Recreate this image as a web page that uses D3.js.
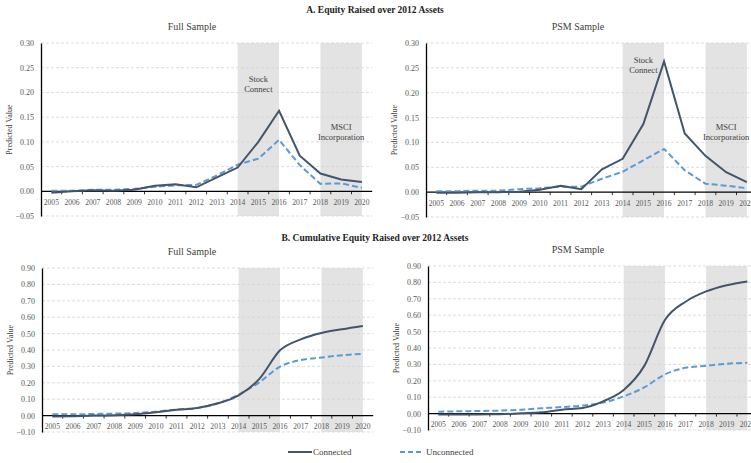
<!DOCTYPE html>
<html>
<head>
<meta charset="utf-8">
<script src="https://cdn.jsdelivr.net/npm/d3@7"></script>
<style>
  body { margin: 0; background: #fff; }
  text { font-family: "Liberation Serif", "DejaVu Serif", serif; }
</style>
</head>
<body>
<script>
const years = ["2005","2006","2007","2008","2009","2010","2011","2012","2013","2014","2015","2016","2017","2018","2019","2020"]

// A. Equity raised over 2012 assets
const aFullConnected   = [-0.003, 0.000, 0.002, 0.001, 0.003, 0.011, 0.014, 0.008, 0.028, 0.048, 0.100, 0.163, 0.072, 0.036, 0.024, 0.019]
const aFullUnconnected = [0.001, 0.001, 0.003, 0.003, 0.005, 0.009, 0.012, 0.013, 0.032, 0.054, 0.066, 0.104, 0.053, 0.015, 0.016, 0.007]
const aPsmConnected    = [-0.001, -0.001, 0.000, 0.000, 0.001, 0.005, 0.013, 0.006, 0.046, 0.067, 0.137, 0.263, 0.118, 0.073, 0.040, 0.020]
const aPsmUnconnected  = [0.002, 0.002, 0.003, 0.003, 0.006, 0.008, 0.011, 0.011, 0.027, 0.041, 0.064, 0.087, 0.044, 0.017, 0.013, 0.008]

// B. Cumulative equity raised over 2012 assets
const bFullConnected   = [-0.006, -0.004, 0.000, 0.002, 0.008, 0.020, 0.035, 0.047, 0.075, 0.124, 0.224, 0.398, 0.465, 0.504, 0.527, 0.547]
const bFullUnconnected = [0.008, 0.008, 0.010, 0.012, 0.016, 0.024, 0.037, 0.047, 0.075, 0.128, 0.203, 0.299, 0.339, 0.354, 0.368, 0.376]
const bPsmConnected    = [-0.006, -0.006, -0.005, -0.004, 0.002, 0.008, 0.024, 0.034, 0.075, 0.144, 0.291, 0.571, 0.682, 0.745, 0.783, 0.806]
const bPsmUnconnected  = [0.012, 0.014, 0.016, 0.018, 0.024, 0.032, 0.040, 0.049, 0.067, 0.105, 0.160, 0.239, 0.279, 0.292, 0.304, 0.310]

const aTicks = [-0.05, 0, 0.05, 0.10, 0.15, 0.20, 0.25, 0.30]
const bTicks = [-0.10, 0, 0.10, 0.20, 0.30, 0.40, 0.50, 0.60, 0.70, 0.80, 0.90]

const periods = [["2014", "2016"], ["2018", "2020"]]

const W = 751, H = 463
const cConn = "#44546a"
const cUnconn = "#5b9bd5"

const svg = d3.select("body").append("svg")
  .attr("width", W)
  .attr("height", H)

// panel titles
svg.append("text").attr("x", 375).attr("y", 13).attr("text-anchor", "middle")
  .style("font-size", "9.5px").style("font-weight", "bold").attr("fill", "#222")
  .text("A. Equity Raised over 2012 Assets")
svg.append("text").attr("x", 375).attr("y", 241).attr("text-anchor", "middle")
  .style("font-size", "9.5px").style("font-weight", "bold").attr("fill", "#222")
  .text("B. Cumulative Equity Raised over 2012 Assets")

function panel(p) {
  const x = d3.scaleBand().domain(years).range([p.left, p.left + 16 * p.bw])
  const y = d3.scaleLinear().domain([p.ticks[0], p.ticks[p.ticks.length - 1]]).range([p.bottom, p.top])
  const g = svg.append("g")
  const cx = d => x(d) + x.bandwidth() / 2

  // shaded periods
  g.selectAll(".shade").data(periods).enter().append("rect")
    .attr("x", d => cx(d[0]))
    .attr("width", d => cx(d[1]) - cx(d[0]))
    .attr("y", p.top)
    .attr("height", p.bottom - p.top)
    .attr("fill", "#e3e3e3")

  // gridlines
  g.selectAll(".grid").data(p.ticks.filter(t => t !== 0)).enter().append("line")
    .attr("x1", p.left).attr("x2", p.left + 16 * p.bw)
    .attr("y1", d => y(d)).attr("y2", d => y(d))
    .attr("stroke", "#d4d4d4").attr("stroke-width", 0.8)
    .attr("stroke-dasharray", "3,2")

  // y axis
  const ya = g.append("g").attr("transform", `translate(${p.left},0)`)
    .call(d3.axisLeft(y).tickValues(p.ticks).tickFormat(d3.format(".2f")).tickSize(0).tickPadding(7))
  ya.select(".domain").attr("stroke", "#000").attr("stroke-width", 1.3)
  ya.selectAll("text").style("font-size", "8px").attr("fill", "#595959")
    .style("font-family", "Liberation Serif")

  // x axis at zero
  const xa = g.append("g").attr("transform", `translate(0,${y(0)})`)
    .call(d3.axisBottom(x).tickSize(0).tickPadding(8))
  xa.select(".domain").remove()
  xa.selectAll("text").style("font-size", "7.6px").attr("fill", "#595959")
    .style("font-family", "Liberation Serif")
  g.append("line")
    .attr("x1", p.left).attr("x2", p.left + 16 * p.bw)
    .attr("y1", y(0)).attr("y2", y(0))
    .attr("stroke", "#000").attr("stroke-width", 1.2)
  g.selectAll(".xtick").data(years.slice(1)).enter().append("line")
    .attr("x1", d => x(d)).attr("x2", d => x(d))
    .attr("y1", y(0)).attr("y2", y(0) + 3)
    .attr("stroke", "#000").attr("stroke-width", 0.8)

  // y title
  g.append("text")
    .attr("transform", `translate(${p.left - 29},${(p.top + p.bottom) / 2}) rotate(-90)`)
    .attr("text-anchor", "middle")
    .style("font-size", "8px").attr("fill", "#404040")
    .text("Predicted Value")

  // sub title
  g.append("text").attr("x", p.titleX).attr("y", p.top - 13)
    .attr("text-anchor", "middle").style("font-size", "10px").attr("fill", "#404040")
    .text(p.title)

  const line = d3.line()
    .x((d, i) => cx(years[i]))
    .y(d => y(d))
    .curve(p.smooth ? d3.curveMonotoneX : d3.curveLinear)

  g.append("path").datum(p.unconn).attr("d", line)
    .attr("fill", "none").attr("stroke", cUnconn).attr("stroke-width", 2)
    .attr("stroke-dasharray", "6,3")
  g.append("path").datum(p.conn).attr("d", line)
    .attr("fill", "none").attr("stroke", cConn).attr("stroke-width", 2)

  if (p.notes) {
    p.notes.forEach(n => {
      const t = g.append("text").attr("x", cx(n.at) + n.dx).attr("y", y(n.y))
        .attr("text-anchor", "middle").style("font-size", "8.5px").attr("fill", "#404040")
      n.lines.forEach((s, i) => t.append("tspan").attr("x", cx(n.at) + n.dx).attr("dy", i ? 10 : 0).text(s))
    })
  }
}

panel({ left: 41, bw: 20.7, top: 43, bottom: 216, ticks: aTicks, conn: aFullConnected, unconn: aFullUnconnected,
  title: "Full Sample", titleX: 192, smooth: false,
  notes: [{ at: "2015", dx: 0, y: 0.222, lines: ["Stock", "Connect"] }, { at: "2019", dx: 0, y: 0.125, lines: ["MSCI", "Incorporation"] }] })
panel({ left: 426, bw: 20.7, top: 43, bottom: 217, ticks: aTicks, conn: aPsmConnected, unconn: aPsmUnconnected,
  title: "PSM Sample", titleX: 578, smooth: false,
  notes: [{ at: "2015", dx: 0, y: 0.259, lines: ["Stock", "Connect"] }, { at: "2019", dx: 0, y: 0.125, lines: ["MSCI", "Incorporation"] }] })
panel({ left: 42, bw: 20.7, top: 268, bottom: 432, ticks: bTicks, conn: bFullConnected, unconn: bFullUnconnected,
  title: "Full Sample", titleX: 192, smooth: true })
panel({ left: 428, bw: 20.6, top: 266, bottom: 430, ticks: bTicks, conn: bPsmConnected, unconn: bPsmUnconnected,
  title: "PSM Sample", titleX: 578, smooth: true })

// legend
const lg = svg.append("g").attr("transform", "translate(0,452)")
lg.append("line").attr("x1", 288).attr("x2", 312).attr("stroke", cConn).attr("stroke-width", 2)
lg.append("text").attr("x", 313).attr("y", 3).style("font-size", "9px").attr("fill", "#404040").text("Connected")
lg.append("line").attr("x1", 400).attr("x2", 422).attr("stroke", cUnconn).attr("stroke-width", 2).attr("stroke-dasharray", "5,3")
lg.append("text").attr("x", 426).attr("y", 3).style("font-size", "9px").attr("fill", "#404040").text("Unconnected")
</script>
</body>
</html>
